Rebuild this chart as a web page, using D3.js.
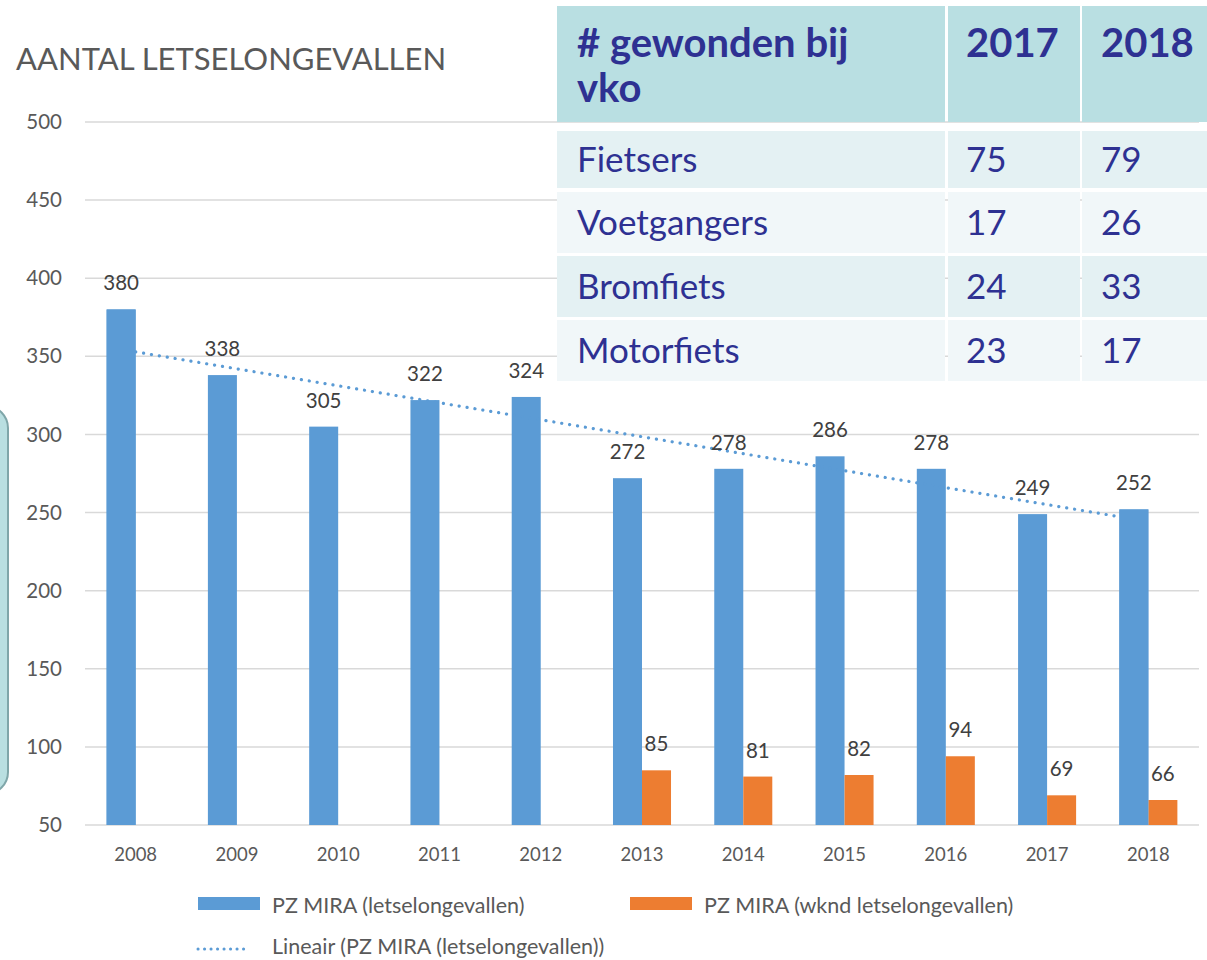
<!DOCTYPE html>
<html><head><meta charset="utf-8">
<script src="https://cdn.jsdelivr.net/npm/d3@7"></script>
<style>
html,body{margin:0;padding:0;background:#fff;}
svg{display:block;}
</style></head>
<body>
<svg id="chart" width="1207" height="960"></svg>
<script>
// ---- data ----
const years = ["2008","2009","2010","2011","2012","2013","2014","2015","2016","2017","2018"];
const letsel = [380,338,305,322,324,272,278,286,278,249,252];
const wknd = [null,null,null,null,null,85,81,82,94,69,66];
const yTicks = [50,100,150,200,250,300,350,400,450,500];
const seriesNames = ["PZ MIRA (letselongevallen)","PZ MIRA (wknd letselongevallen)","Lineair (PZ MIRA (letselongevallen))"];
const chartTitle = "AANTAL LETSELONGEVALLEN";
const tableHeader = ["# gewonden bij|vko","2017","2018"];
const tableRows = ["Fietsers","Voetgangers","Bromfiets","Motorfiets"];
const table2017 = [75,17,24,23];
const table2018 = [79,26,33,17];

const blue = "#5b9bd5", orange = "#ed7d31";
const svg = d3.select("#chart");
const font = "Lato, 'Open Sans', sans-serif";

// left rounded box (partially visible)
svg.append("rect").attr("x",-40).attr("y",406).attr("width",48).attr("height",388)
  .attr("rx",22).attr("fill","#b9dfe1").attr("stroke","#7fa6a9").attr("stroke-width",2);

// scales
const y = d3.scaleLinear().domain([50,500]).range([825,122]);
const x = d3.scaleBand().domain(years).range([85,1199]).paddingInner(0.427).paddingOuter(0.2135);
const xs = d3.scaleBand().domain([0,1]).range([0,x.bandwidth()]);

// title
svg.append("text").attr("x",16).attr("y",70).text(chartTitle)
  .attr("font-family",font).attr("font-size",31).attr("fill","#595959");

// grid
const grid = svg.append("g");
grid.selectAll("line").data(yTicks).join("line")
  .attr("x1",85).attr("x2",1199).attr("y1",d=>y(d)).attr("y2",d=>y(d))
  .attr("stroke","#d9d9d9").attr("stroke-width",1.5);
// y axis labels
const yAxis = svg.append("g").attr("transform","translate(70,0)")
  .call(d3.axisLeft(y).tickValues(yTicks).tickSize(0).tickPadding(0));
yAxis.select(".domain").remove();
yAxis.selectAll("text").attr("font-family",font).attr("font-size",20.5).attr("fill","#595959").attr("dx",-8);

// x axis labels
const xAxis = svg.append("g").attr("transform","translate(0,843)")
  .call(d3.axisBottom(x).tickSize(0).tickPadding(0));
xAxis.select(".domain").remove();
xAxis.selectAll("text").attr("font-family",font).attr("font-size",18.5).attr("fill","#595959").attr("dy","0.95em");

// trendline (linear regression)
const n = letsel.length;
const mx = d3.mean(d3.range(n)), my = d3.mean(letsel);
const slope = d3.sum(d3.range(n), i => (i-mx)*(letsel[i]-my)) / d3.sum(d3.range(n), i => (i-mx)*(i-mx));
const icpt = my - slope*mx;
const cx = yr => x(yr)+x.bandwidth()/2;

// bars
svg.append("g").selectAll("rect").data(years).join("rect")
  .attr("x",d=>x(d)+xs(0)).attr("width",xs.bandwidth())
  .attr("y",(d,i)=>y(letsel[i])).attr("height",(d,i)=>y(50)-y(letsel[i]))
  .attr("fill",blue);
svg.append("g").selectAll("rect").data(years.filter((d,i)=>wknd[i]!=null)).join("rect")
  .attr("x",d=>x(d)+xs(1)).attr("width",xs.bandwidth())
  .attr("y",d=>y(wknd[years.indexOf(d)])).attr("height",d=>y(50)-y(wknd[years.indexOf(d)]))
  .attr("fill",orange);

svg.append("line")
  .attr("x1",cx(years[0])).attr("y1",y(icpt))
  .attr("x2",cx(years[n-1])).attr("y2",y(icpt+slope*(n-1)))
  .attr("stroke",blue).attr("stroke-width",3.2).attr("stroke-linecap","round")
  .attr("stroke-dasharray","0.1,7.9");
// trend end hides behind the last bar
svg.append("rect").attr("x",x(years[n-1])+xs(0)).attr("width",xs.bandwidth())
  .attr("y",y(letsel[n-1])).attr("height",y(50)-y(letsel[n-1])).attr("fill",blue);
svg.append("rect").attr("x",x(years[0])+xs(0)).attr("width",xs.bandwidth())
  .attr("y",y(letsel[0])).attr("height",y(50)-y(letsel[0])).attr("fill",blue);

// value labels
svg.append("g").selectAll("text").data(years).join("text")
  .attr("x",d=>x(d)+xs(0)+xs.bandwidth()/2).attr("y",(d,i)=>y(letsel[i])-19)
  .attr("text-anchor","middle").text((d,i)=>letsel[i])
  .attr("font-family",font).attr("font-size",20.5).attr("fill","#404040");
svg.append("g").selectAll("text").data(years.filter((d,i)=>wknd[i]!=null)).join("text")
  .attr("x",d=>x(d)+xs(1)+xs.bandwidth()/2).attr("y",d=>y(wknd[years.indexOf(d)])-19)
  .attr("text-anchor","middle").text(d=>wknd[years.indexOf(d)])
  .attr("font-family",font).attr("font-size",20.5).attr("fill","#404040");

// legend
const lg = svg.append("g").attr("font-family",font).attr("font-size",21.5).attr("fill","#595959");
lg.append("rect").attr("x",198).attr("y",897).attr("width",62).attr("height",13).attr("fill",blue);
lg.append("text").attr("x",272).attr("y",913).text(seriesNames[0]);
lg.append("rect").attr("x",630).attr("y",897).attr("width",62).attr("height",13).attr("fill",orange);
lg.append("text").attr("x",704).attr("y",913).text(seriesNames[1]);
lg.append("line").attr("x1",198).attr("x2",250).attr("y1",949).attr("y2",949)
  .attr("stroke",blue).attr("stroke-width",3).attr("stroke-linecap","round").attr("stroke-dasharray","0.1,6.4");
lg.append("text").attr("x",272).attr("y",954).text(seriesNames[2]);

// table
const tcol = "#2e3192";
const colX = [557,948,1082], colW = [388,132,130];
const tg = svg.append("g").attr("font-family",font).attr("fill",tcol);
colX.forEach((cxx,j)=>{
  tg.append("rect").attr("x",cxx).attr("y",6).attr("width",colW[j]).attr("height",116).attr("fill","#b9dfe2");
});
const rowY = [131,192,256,320], rowH = [57,61,61,61];
const rowFill = ["#e4f1f3","#f1f7f9","#e4f1f3","#f1f7f9"];
tableRows.forEach((r,i)=>{
  colX.forEach((cxx,j)=>{
    tg.append("rect").attr("x",cxx).attr("y",rowY[i]).attr("width",colW[j]).attr("height",rowH[i]).attr("fill",rowFill[i]);
  });
  const base = rowY[i]+rowH[i]/2+12;
  tg.append("text").attr("x",577).attr("y",base).text(r).attr("font-size",35);
  tg.append("text").attr("x",966).attr("y",base).text(table2017[i]).attr("font-size",35);
  tg.append("text").attr("x",1101).attr("y",base).text(table2018[i]).attr("font-size",35);
});
const hdr = tableHeader[0].split("|");
tg.append("text").attr("x",577).attr("y",57).text(hdr[0]).attr("font-size",40).attr("font-weight","bold");
tg.append("text").attr("x",577).attr("y",102).text(hdr[1]).attr("font-size",40).attr("font-weight","bold");
tg.append("text").attr("x",966).attr("y",57).text(tableHeader[1]).attr("font-size",40).attr("font-weight","bold");
tg.append("text").attr("x",1101).attr("y",57).text(tableHeader[2]).attr("font-size",40).attr("font-weight","bold");
</script>
</body></html>
